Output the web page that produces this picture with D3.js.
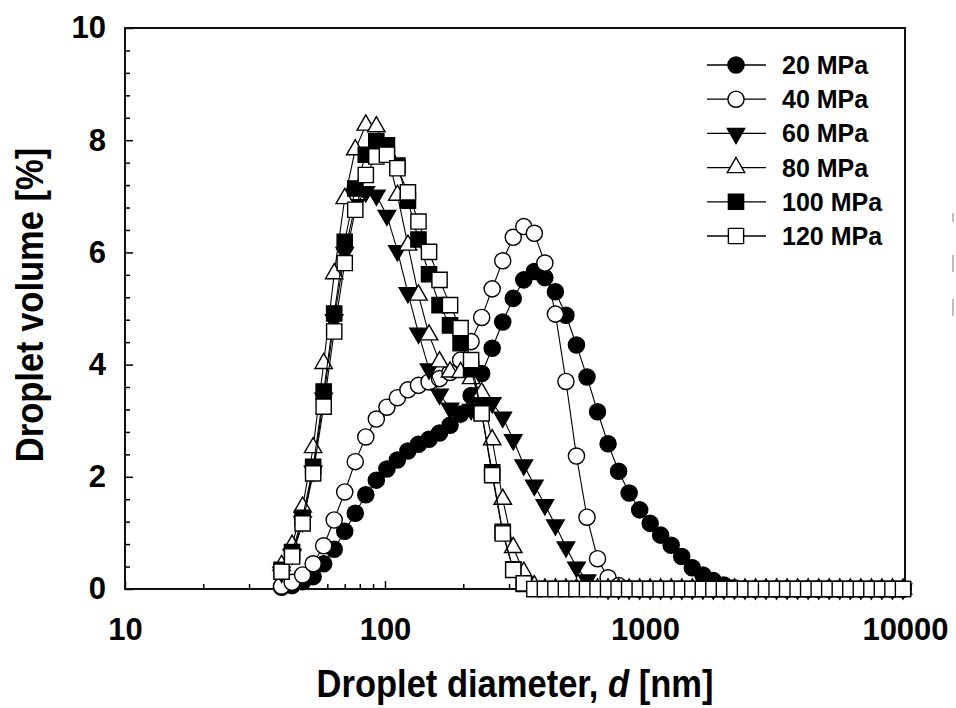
<!DOCTYPE html>
<html>
<head>
<meta charset="utf-8">
<script src="https://cdn.jsdelivr.net/npm/d3@7"></script>
<style>
  html, body { margin: 0; padding: 0; background: #fff; }
  svg { display: block; font-family: "Liberation Sans", Arial, Helvetica, sans-serif; }
</style>
</head>
<body>
<svg id="chart" width="956" height="708"></svg>
<script>
// channel diameters [nm]
const diameters = [
  40, 43.91, 48.2, 52.92, 58.09, 63.77, 70, 76.85, 84.36, 92.61,
  101.7, 111.6, 122.5, 134.5, 147.7, 162.1, 177.9, 195.3, 214.4, 235.4,
  258.4, 283.7, 311.4, 341.8, 375.3, 412, 452.3, 496.5, 545, 598.3,
  656.8, 721.1, 791.6, 869, 954, 1047, 1149, 1261, 1385, 1520,
  1669, 1832, 2011, 2208, 2424, 2661, 2921, 3207, 3520, 3864,
  4242, 4657, 5112, 5612, 6161, 6763, 7425, 8151, 8948, 9823
];

// droplet volume [%] per pressure
const vol20 = [
  0.03, 0.06, 0.13, 0.22, 0.45, 0.71, 1.03, 1.35, 1.68, 1.94,
  2.14, 2.30, 2.46, 2.58, 2.67, 2.78, 2.92, 3.12, 3.45, 3.84,
  4.29, 4.76, 5.18, 5.51, 5.66, 5.55, 5.30, 4.88, 4.35, 3.78,
  3.16, 2.59, 2.10, 1.71, 1.41, 1.17, 0.96, 0.78, 0.58, 0.38,
  0.25, 0.15, 0.07, 0.02, 0, 0, 0, 0, 0, 0,
  0, 0, 0, 0, 0, 0, 0, 0, 0, 0
];
const vol40 = [
  0.05, 0.12, 0.25, 0.45, 0.77, 1.23, 1.73, 2.27, 2.71, 3.03,
  3.24, 3.41, 3.55, 3.63, 3.69, 3.75, 3.86, 4.08, 4.41, 4.84,
  5.35, 5.85, 6.27, 6.46, 6.34, 5.81, 4.90, 3.70, 2.37, 1.28,
  0.54, 0.20, 0.06, 0.01, 0, 0, 0, 0, 0, 0,
  0, 0, 0, 0, 0, 0, 0, 0, 0, 0,
  0, 0, 0, 0, 0, 0, 0, 0, 0, 0
];
const vol60 = [
  0.30, 0.62, 1.20, 2.10, 3.40, 4.80, 6.00, 6.85, 7.08, 7.02,
  6.66, 6.03, 5.28, 4.56, 3.92, 3.47, 3.22, 3.15, 3.20, 3.30,
  3.32, 3.06, 2.66, 2.21, 1.85, 1.50, 1.14, 0.75, 0.39, 0.16,
  0.03, 0, 0, 0, 0, 0, 0, 0, 0, 0,
  0, 0, 0, 0, 0, 0, 0, 0, 0, 0,
  0, 0, 0, 0, 0, 0, 0, 0, 0, 0
];
const vol80 = [
  0.42, 0.78, 1.46, 2.52, 4.02, 5.62, 6.96, 7.83, 8.27, 8.24,
  7.80, 7.02, 6.13, 5.24, 4.53, 4.05, 3.87, 3.86, 3.75, 3.50,
  2.66, 1.60, 0.74, 0.30, 0.06, 0, 0, 0, 0, 0,
  0, 0, 0, 0, 0, 0, 0, 0, 0, 0,
  0, 0, 0, 0, 0, 0, 0, 0, 0, 0,
  0, 0, 0, 0, 0, 0, 0, 0, 0, 0
];
const vol100 = [
  0.34, 0.66, 1.27, 2.18, 3.52, 4.91, 6.19, 7.14, 7.74, 7.98,
  7.91, 7.55, 6.92, 6.23, 5.61, 5.06, 4.70, 4.38, 3.92, 3.15,
  2.08, 1.02, 0.35, 0.09, 0, 0, 0, 0, 0, 0,
  0, 0, 0, 0, 0, 0, 0, 0, 0, 0,
  0, 0, 0, 0, 0, 0, 0, 0, 0, 0,
  0, 0, 0, 0, 0, 0, 0, 0, 0, 0
];
const vol120 = [
  0.31, 0.58, 1.17, 2.06, 3.25, 4.59, 5.81, 6.76, 7.38, 7.71,
  7.74, 7.50, 7.07, 6.55, 6.01, 5.51, 5.06, 4.65, 4.08, 3.13,
  2.03, 0.99, 0.34, 0.10, 0, 0, 0, 0, 0, 0,
  0, 0, 0, 0, 0, 0, 0, 0, 0, 0,
  0, 0, 0, 0, 0, 0, 0, 0, 0, 0,
  0, 0, 0, 0, 0, 0, 0, 0, 0, 0
];

const seriesNames = ["20 MPa", "40 MPa", "60 MPa", "80 MPa", "100 MPa", "120 MPa"];
const seriesValues = [vol20, vol40, vol60, vol80, vol100, vol120];
// marker: shape + filled or open
const seriesMarkers = [
  { shape: "circle", filled: true },
  { shape: "circle", filled: false },
  { shape: "down", filled: true },
  { shape: "up", filled: false },
  { shape: "square", filled: true },
  { shape: "square", filled: false }
];

const xTickLabels = [10, 100, 1000, 10000];
const xMinorTicks = [20, 30, 40, 50, 60, 70, 80, 90, 200, 300, 400, 500, 600, 700, 800, 900,
                     2000, 3000, 4000, 5000, 6000, 7000, 8000, 9000];
const yTickLabels = [0, 2, 4, 6, 8, 10];

const svg = d3.select("#chart");

const plot = { left: 125, right: 905, top: 28, bottom: 589 };

const x = d3.scaleLog().domain([10, 10000]).range([plot.left, plot.right]);
const y = d3.scaleLinear().domain([0, 10]).range([plot.bottom, plot.top]);

// minor ticks (inside)
const yMinor = d3.range(0, 10.001, 0.4).filter(v => yTickLabels.indexOf(Math.round(v * 10) / 10) < 0);

svg.append("g")
  .attr("class", "y-minor")
  .attr("transform", `translate(${plot.left},0)`)
  .call(d3.axisLeft(y).tickValues(yMinor).tickSize(-5).tickFormat(""))
  .call(g => g.select(".domain").remove());

svg.append("g")
  .attr("class", "y-major")
  .attr("transform", `translate(${plot.left},0)`)
  .call(d3.axisLeft(y).tickValues(yTickLabels).tickSize(-8).tickPadding(19).tickFormat(d3.format("d")))
  .call(g => g.select(".domain").remove());

svg.append("g")
  .attr("class", "x-minor")
  .attr("transform", `translate(0,${plot.bottom})`)
  .call(d3.axisBottom(x).tickValues(xMinorTicks).tickSize(-5).tickFormat(""))
  .call(g => g.select(".domain").remove());

svg.append("g")
  .attr("class", "x-major")
  .attr("transform", `translate(0,${plot.bottom})`)
  .call(d3.axisBottom(x).tickValues(xTickLabels).tickSize(-8).tickPadding(29).tickFormat(d3.format("d")))
  .call(g => g.select(".domain").remove());

svg.selectAll(".tick line").attr("stroke", "#000").attr("stroke-width", 1.5);
svg.selectAll(".tick text")
  .attr("fill", "#000")
  .style("font-size", "31px")
  .style("font-weight", "bold")
  .style("font-family", "'Liberation Sans', Arial, sans-serif");

// frame
svg.append("rect")
  .attr("x", plot.left)
  .attr("y", plot.top)
  .attr("width", plot.right - plot.left)
  .attr("height", plot.bottom - plot.top)
  .attr("fill", "none")
  .attr("stroke", "#111")
  .attr("stroke-width", 2);

// markers
const circleSym = d3.symbol(d3.symbolCircle, 205);
const squareSym = d3.symbol(d3.symbolSquare, 232);
const triSym = d3.symbol(d3.symbolTriangle, 132);

function drawMarker(g, m) {
  let p;
  if (m.shape === "circle") p = g.append("path").attr("d", circleSym());
  else if (m.shape === "square") p = g.append("path").attr("d", squareSym());
  else if (m.shape === "up") p = g.append("path").attr("d", triSym());
  else p = g.append("path").attr("d", triSym()).attr("transform", "rotate(180)");
  p.attr("fill", m.filled ? "#000" : "#fff")
    .attr("stroke", "#000")
    .attr("stroke-width", 1.4)
    .attr("stroke-linejoin", "miter");
}

const line = d3.line()
  .x(d => x(d.d))
  .y(d => y(d.v));

seriesValues.forEach((vals, i) => {
  const pts = diameters.map((d, j) => ({ d: d, v: vals[j] }));
  const g = svg.append("g").attr("class", "series");
  g.append("path")
    .datum(pts)
    .attr("d", line)
    .attr("fill", "none")
    .attr("stroke", "#000")
    .attr("stroke-width", 1.1);
  g.selectAll("g.pt")
    .data(pts)
    .enter().append("g")
    .attr("class", "pt")
    .attr("transform", d => `translate(${x(d.d)},${y(d.v)})`)
    .each(function () { drawMarker(d3.select(this), seriesMarkers[i]); });
});

// legend
const legend = svg.append("g").attr("class", "legend");
seriesNames.forEach((name, i) => {
  const ly = 65 + i * 34.2;
  const row = legend.append("g").attr("transform", `translate(0,${ly})`);
  row.append("line")
    .attr("x1", 707).attr("x2", 766)
    .attr("stroke", "#000").attr("stroke-width", 1.3);
  const mk = row.append("g").attr("transform", "translate(736,0)");
  drawMarker(mk, seriesMarkers[i]);
  row.append("text")
    .attr("x", 782)
    .attr("y", 9)
    .style("font-size", "25px")
    .style("font-weight", "bold")
    .attr("fill", "#000")
    .text(name);
});

// axis titles (tall, slightly condensed lettering)
const xTitle = svg.append("text")
  .attr("transform", "translate(515,697) scale(0.885,1)")
  .attr("text-anchor", "middle")
  .style("font-size", "39px")
  .style("font-weight", "bold")
  .attr("fill", "#000");
xTitle.append("tspan").text("Droplet diameter, ");
xTitle.append("tspan").style("font-style", "italic").text("d");
xTitle.append("tspan").text(" [nm]");

svg.append("text")
  .attr("transform", "translate(43,305) rotate(-90) scale(0.885,1)")
  .attr("text-anchor", "middle")
  .style("font-size", "39px")
  .style("font-weight", "bold")
  .attr("fill", "#000")
  .text("Droplet volume [%]");

// faint marks cut off at the right edge of the scan
const edgeMarks = [[213, 222], [255, 272], [299, 316]];
svg.append("g")
  .selectAll("line")
  .data(edgeMarks)
  .enter().append("line")
  .attr("x1", 953).attr("x2", 953)
  .attr("y1", d => d[0]).attr("y2", d => d[1])
  .attr("stroke", "#aaa")
  .attr("stroke-width", 1.5);
</script>
</body>
</html>
